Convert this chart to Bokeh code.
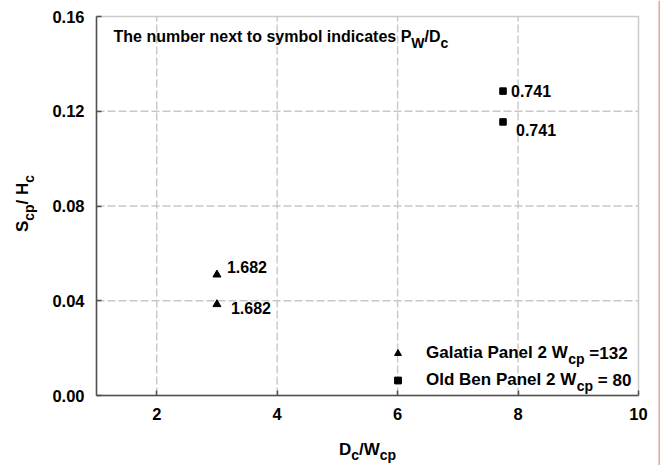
import math
from bokeh.plotting import figure
from bokeh.models import (ColumnDataSource, Range1d, FixedTicker, PrintfTickFormatter,
                          Label, Legend, LegendItem, BoxAnnotation, LinearAxis)
from bokeh.core.properties import value
from bokeh.embed import file_html
from bokeh.resources import INLINE

# Galatia Panel 2 (W_cp = 132)
galatia_dc_wcp = [3.0, 3.0]
galatia_scp_hc = [0.051, 0.0385]
galatia_pw_dc = [1.682, 1.682]

# Old Ben Panel 2 (W_cp = 80)
oldben_dc_wcp = [7.75, 7.75]
oldben_scp_hc = [0.1285, 0.1155]
oldben_pw_dc = [0.741, 0.741]

x_ticks = [2, 4, 6, 8, 10]
y_ticks = [0.00, 0.04, 0.08, 0.12, 0.16]
x_lo, x_hi = 1, 10
y_lo, y_hi = 0.0, 0.16

FONT = "Liberation Sans"
AXIS_COLOR = "#505050"
MID = 0.35  # distance from the em middle down to the alphabetic baseline, in em

# page geometry of the axes box (pixels from the top-left corner)
W_PAGE, H_PAGE = 662, 465
BL, BR, BT, BB = 96, 638, 16, 395

# the plotting frame covers the whole page; the axes box sits inside it
ux = (x_hi - x_lo) / (BR - BL)
uy = (y_hi - y_lo) / (BB - BT)
x_range = Range1d(x_lo - BL * ux, x_hi + (W_PAGE - BR) * ux)
y_range = Range1d(y_lo - (H_PAGE - BB) * uy, y_hi + BT * uy)

p = figure(width=W_PAGE, height=H_PAGE, x_range=x_range, y_range=y_range,
           output_backend="svg", toolbar_location=None,
           x_axis_location=None, y_axis_location=None,
           min_border=0, min_border_left=0, min_border_right=0,
           min_border_top=0, min_border_bottom=0)
p.background_fill_color = "white"
p.border_fill_color = "white"
p.outline_line_color = None
p.xgrid.visible = False
p.ygrid.visible = False

xaxis = LinearAxis(fixed_location=y_lo, bounds=(x_lo, x_hi),
                   ticker=FixedTicker(ticks=x_ticks))
yaxis = LinearAxis(fixed_location=x_lo, bounds=(y_lo, y_hi),
                   ticker=FixedTicker(ticks=y_ticks),
                   formatter=PrintfTickFormatter(format="%.2f"))
for ax in (xaxis, yaxis):
    ax.axis_line_color = AXIS_COLOR
    ax.axis_line_width = 1.5
    ax.major_tick_line_color = AXIS_COLOR
    ax.major_tick_line_width = 1.5
    ax.major_tick_in = 5
    ax.major_tick_out = 0
    ax.minor_tick_line_color = None
    ax.major_label_text_font = FONT
    ax.major_label_text_font_style = "bold"
    ax.major_label_text_font_size = "16.5px"
    ax.major_label_text_color = "black"
xaxis.major_label_standoff = 12
yaxis.major_label_standoff = 12
p.add_layout(xaxis, "below")
p.add_layout(yaxis, "left")

# dashed grid at the interior ticks
gx = [t for t in x_ticks if x_lo < t < x_hi]
gy = [t for t in y_ticks if y_lo < t < y_hi]
p.segment(x0=gx, y0=[y_lo] * len(gx), x1=gx, y1=[y_hi] * len(gx),
          line_color="#c8c8c8", line_width=1.4, line_dash="8 3")
p.segment(x0=[x_lo] * len(gy), y0=gy, x1=[x_hi] * len(gy), y1=gy,
          line_color="#c8c8c8", line_width=1.4, line_dash="8 3")

# box around the axes
p.add_layout(BoxAnnotation(left=x_lo, right=x_hi, bottom=y_lo, top=y_hi,
                           fill_alpha=0, line_color=AXIS_COLOR, line_width=1.5,
                           level="underlay"))

# data points
gal_src = ColumnDataSource(dict(x=galatia_dc_wcp, y=galatia_scp_hc,
                                lab=[f"{v:.3f}" for v in galatia_pw_dc]))
old_src = ColumnDataSource(dict(x=oldben_dc_wcp, y=oldben_scp_hc,
                                lab=[f"{v:.3f}" for v in oldben_pw_dc]))

tri = p.scatter("x", "y", source=gal_src, marker="triangle", size=8,
                fill_color="black", line_color="black")
sq = p.scatter("x", "y", source=old_src, marker="square", size=6.5,
               fill_color="black", line_color="black")

# P_W/D_C annotations beside each symbol (pixel offsets)
gal_dx, gal_dy = [10, 14], [-8, 4]
old_dx, old_dy = [8, 13], [0, 8]
for src, dx, dy in ((gal_src, gal_dx, gal_dy), (old_src, old_dx, old_dy)):
    src.data["dx"] = dx
    src.data["dy"] = dy
    p.text("x", "y", text="lab", source=src, x_offset="dx", y_offset="dy",
           text_font=value(FONT), text_font_style="bold", text_font_size="16px",
           text_align="left", text_baseline="middle", text_color="black")

# Arial / Liberation Sans bold advance widths (per 1000 em)
ADV = {" ": 278, "/": 278, "=": 584, ".": 278,
       "A": 722, "B": 722, "C": 722, "D": 722, "G": 778, "H": 722, "O": 778,
       "P": 667, "S": 667, "T": 611, "W": 944,
       "a": 556, "b": 611, "c": 556, "d": 611, "e": 556, "h": 611, "i": 278,
       "l": 278, "m": 889, "n": 611, "o": 611, "p": 611, "r": 389, "s": 556,
       "t": 333, "u": 611, "x": 556, "y": 556}
for d in "0123456789":
    ADV[d] = 556


def text_width(s, size):
    return sum(ADV.get(ch, 556) for ch in s) * size / 1000.0


def label(x, y, text, size, angle=0.0):
    # x, y: page pixels from the top-left of the start of the text's baseline
    if angle:
        x -= MID * size
    else:
        y -= MID * size
    p.add_layout(Label(x=x, y=H_PAGE - y, x_units="screen", y_units="screen",
                       text=text, angle=angle, text_font=FONT,
                       text_font_style="bold", text_font_size=f"{size}px",
                       text_color="black", text_align="left",
                       text_baseline="middle"))


def runs_h(runs, x0, base, size, sub, drop, center=False):
    total = sum(text_width(t, sub if s else size) for t, s in runs)
    pos = x0 - total / 2 if center else x0
    for t, s in runs:
        sz = sub if s else size
        lead = len(t) - len(t.lstrip(" "))
        pos += text_width(" " * lead, sz)
        label(pos, base + (drop if s else 0), t.strip(" "), sz)
        pos += text_width(t.lstrip(" "), sz)
    return pos


def runs_v(runs, base_x, cy, size, sub, drop):
    total = sum(text_width(t, sub if s else size) for t, s in runs)
    pos = cy + total / 2
    for t, s in runs:
        sz = sub if s else size
        label(base_x + (drop if s else 0), pos, t.strip(" "), sz, angle=math.pi / 2)
        pos -= text_width(t, sz)


# note in the upper left corner
runs_h([("The number next to symbol indicates P", False), ("W", True),
        ("/D", False), ("c", True)], 113, 42, 16, 14, 5)

# axis titles
runs_h([("D", False), ("c", True), ("/W", False), ("cp", True)],
       367, 455, 17, 14, 4, center=True)
runs_v([("S", False), ("cp", True), ("/ ", False), ("H", False), ("c", True)],
       28, 203, 17, 14, 5)

# legend
LEG_SIZE = 17
leg_rows = 20
leg_spacing = 7
leg_pad = 5
glyph_w = 17
label_x = 426
row1 = 353
leg_top = row1 - leg_rows // 2 - leg_pad
leg_h = 2 * leg_pad + 2 * leg_rows + leg_spacing
glyph_left = 397 - glyph_w // 2

legend = Legend(items=[LegendItem(label="Galatia Panel 2 W", renderers=[tri]),
                       LegendItem(label="Old Ben Panel 2 W", renderers=[sq])],
                location=(int(glyph_left - leg_pad), int(H_PAGE - (leg_top + leg_h))),
                orientation="vertical", glyph_width=glyph_w, glyph_height=leg_rows,
                label_height=leg_rows, spacing=leg_spacing, padding=leg_pad,
                margin=0, label_standoff=int(label_x - glyph_left - glyph_w),
                border_line_alpha=0, background_fill_alpha=0,
                label_text_font=FONT, label_text_font_style="bold",
                label_text_font_size=f"{LEG_SIZE}px", label_text_color="black")
p.add_layout(legend)

for i, (head, tail) in enumerate((("Galatia Panel 2 W", " =132"),
                                   ("Old Ben Panel 2 W", " = 80"))):
    rc = row1 + i * (leg_rows + leg_spacing)
    base = rc + MID * LEG_SIZE
    x = label_x + text_width(head, LEG_SIZE)
    runs_h([("cp", True), (tail, False)], x, base, LEG_SIZE, 14, 4.5)

# thin margin rule on the right edge of the page
p.add_layout(BoxAnnotation(left=658, right=659.5, top=H_PAGE, bottom=0,
                           left_units="screen", right_units="screen",
                           top_units="screen", bottom_units="screen",
                           fill_color="#f2a0a0", fill_alpha=1.0, line_alpha=0))

open("out.html", "w").write(file_html(p, INLINE))
